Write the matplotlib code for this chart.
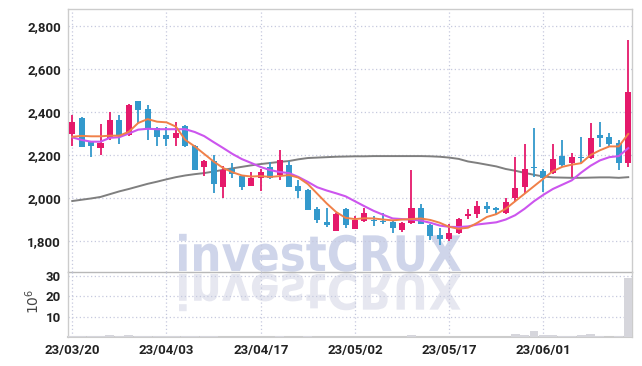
import matplotlib.pyplot as plt
from matplotlib.textpath import TextPath
from matplotlib.patches import PathPatch
from matplotlib.font_manager import FontProperties
from matplotlib.transforms import Affine2D

# tick labels on the date axis (trading-day index)
date_labels = ['23/03/20', '23/04/03', '23/04/17', '23/05/02', '23/05/17', '23/06/01']
date_pos = [0, 10, 20, 30, 40, 50]

# daily prices
opens = [2300, 2372, 2262, 2232, 2280, 2363, 2293, 2451, 2414, 2326,
         2293, 2279, 2335, 2242, 2144, 2172, 2051, 2135, 2102, 2056,
         2093, 2144, 2107, 2153, 2056, 2037, 1949, 1888, 1847, 1949,
         1856, 1893, 1900, 1895, 1888, 1851, 1884, 1954, 1874, 1828,
         1809, 1837, 1916, 1926, 1963, 1955, 1930, 2000, 2051, 2145,
         2126, 2116, 2195, 2163, 2193, 2186, 2293, 2284, 2256, 2163]
highs = [2385, 2375, 2265, 2345, 2400, 2386, 2437, 2452, 2433, 2330,
         2330, 2354, 2338, 2245, 2175, 2200, 2150, 2165, 2105, 2121,
         2135, 2167, 2223, 2172, 2084, 2040, 1958, 1954, 1930, 1952,
         1916, 1954, 1916, 1930, 1893, 1888, 2130, 1972, 1877, 1860,
         1879, 1905, 1950, 1986, 1981, 1958, 2000, 2191, 2251, 2326,
         2135, 2251, 2270, 2210, 2284, 2349, 2354, 2302, 2270, 2735]
lows = [2240, 2235, 2192, 2200, 2270, 2251, 2290, 2350, 2270, 2242,
        2242, 2242, 2235, 2128, 2102, 2023, 2000, 2093, 2037, 2054,
        2033, 2090, 2084, 2049, 2000, 1942, 1884, 1865, 1845, 1860,
        1854, 1890, 1870, 1879, 1837, 1842, 1880, 1877, 1805, 1781,
        1800, 1835, 1902, 1907, 1930, 1921, 1928, 1981, 2023, 2098,
        2028, 2112, 2144, 2098, 2163, 2181, 2237, 2244, 2130, 2144]
closes = [2355, 2237, 2240, 2256, 2363, 2293, 2433, 2409, 2325, 2284,
          2274, 2302, 2242, 2130, 2172, 2065, 2130, 2112, 2051, 2093,
          2121, 2093, 2177, 2051, 2033, 1944, 1898, 1874, 1926, 1874,
          1898, 1930, 1895, 1890, 1860, 1884, 1954, 1879, 1823, 1809,
          1837, 1902, 1924, 1963, 1950, 1945, 1981, 2047, 2135, 2140,
          2093, 2181, 2153, 2191, 2188, 2279, 2280, 2251, 2163, 2493]

# moving averages as drawn
ma_short = [2285, 2289, 2287, 2287, 2290, 2290, 2308, 2349, 2367, 2355,
            2352, 2332, 2270, 2240, 2205, 2170, 2140, 2120, 2105, 2100,
            2102, 2098, 2102, 2107, 2095, 2065, 2020, 1975, 1935, 1908,
            1902, 1906, 1905, 1900, 1896, 1900, 1902, 1905, 1898, 1885,
            1866, 1857, 1862, 1885, 1912, 1925, 1950, 1985, 2020, 2055,
            2090, 2125, 2145, 2155, 2162, 2200, 2222, 2240, 2240, 2298]
ma_mid = [2282, 2270, 2262, 2262, 2280, 2283, 2300, 2318, 2322, 2320,
          2320, 2320, 2320, 2307, 2288, 2260, 2233, 2205, 2181, 2163,
          2144, 2130, 2121, 2116, 2098, 2075, 2050, 2035, 2022, 2008,
          1985, 1962, 1940, 1922, 1905, 1902, 1900, 1895, 1885, 1872,
          1866, 1865, 1868, 1877, 1882, 1887, 1900, 1920, 1950, 1985,
          2015, 2042, 2062, 2082, 2118, 2150, 2175, 2190, 2195, 2232]
ma_long = [1986, 1992, 1998, 2005, 2018, 2031, 2042, 2054, 2066, 2076,
           2087, 2097, 2105, 2111, 2116, 2123, 2131, 2138, 2145, 2152,
           2158, 2163, 2168, 2172, 2180, 2186, 2188, 2190, 2192, 2193,
           2194, 2194, 2195, 2195, 2195, 2195, 2195, 2195, 2194, 2192,
           2188, 2182, 2170, 2163, 2155, 2147, 2135, 2127, 2117, 2108,
           2100, 2096, 2095, 2094, 2094, 2095, 2096, 2096, 2094, 2097]

# volume in millions
volumes = [0.6, 0.6, 0.6, 0.6, 1.2, 0.6, 1.1, 0.6, 0.6, 0.6,
           0.6, 0.6, 0.6, 0.6, 0.6, 0.6, 0.2, 0.2, 0.2, 0.2,
           0.2, 0.2, 0.7, 0.2, 0.2, 0.6, 0.2, 0.2, 0.2, 0.2,
           0.2, 0.2, 0.2, 0.2, 0.2, 0.2, 1.1, 0.2, 0.2, 0.2,
           0.2, 0.2, 0.2, 0.2, 0.2, 0.2, 0.2, 1.5, 1.0, 3.0,
           1.0, 0.8, 0.4, 0.3, 1.0, 1.5, 0.5, 0.2, 0.5, 29.0]

up_color = '#e5196b'
down_color = '#3399cc'
grid_color = '#c6c9de'
frame_color = '#cccccc'
label_font = ['Roboto', 'DejaVu Sans']

W, H = 642, 366
fig = plt.figure(figsize=(W / 100, H / 100), dpi=100)
fig.patch.set_facecolor('white')
ax = fig.add_axes([68 / W, 1 - 272 / H, (632 - 68) / W, (272 - 9) / H])
axv = fig.add_axes([68 / W, 1 - 337 / H, (632 - 68) / W, (337 - 272) / H], sharex=ax)

# watermark with its reflection
fp = FontProperties(family='DejaVu Sans', weight='bold')
tp = TextPath((0, 0), 'investCRUX', size=100, prop=fp)
bb = tp.get_extents()
cap = TextPath((0, 0), 'C', size=100, prop=fp).get_extents()
sx = (461 - 179) / bb.width
sy = 37 / cap.height
to_fig = Affine2D().scale(1 / W, 1 / H) + fig.transFigure
main_tr = Affine2D().translate(-bb.x0, 0).scale(sx, sy).translate(179, H - 271) + to_fig
refl_tr = Affine2D().translate(-bb.x0, 0).scale(sx, -sy).translate(179, H - 274) + to_fig
fig.add_artist(PathPatch(tp, transform=refl_tr, facecolor='#e6e7f0', edgecolor='none', zorder=-2))
fig.add_artist(PathPatch(tp, transform=main_tr, facecolor='#cfd5ea', edgecolor='none', zorder=-2))

x = list(range(len(opens)))
colors = [up_color if c >= o else down_color for o, c in zip(opens, closes)]
bottoms = [min(o, c) for o, c in zip(opens, closes)]
heights = [max(abs(c - o), 5) for o, c in zip(opens, closes)]

ax.plot(x, ma_long, color='#7f7f7f', linewidth=1.4, zorder=2)
ax.vlines(x, lows, highs, colors=colors, linewidth=1.3, zorder=3)
ax.bar(x, heights, bottom=bottoms, width=0.64, color=colors, zorder=4)
ax.plot(x, ma_mid, color='#cc55ee', linewidth=1.5, zorder=5)
ax.plot(x, ma_short, color='#f08048', linewidth=1.4, zorder=5)

axv.bar(x, volumes, width=0.95, color='#d6d6dc', zorder=3)

ax.set_xlim(-0.45, 59.4)
ax.set_ylim(1656, 2879)
axv.set_ylim(0, 32)

ax.set_yticks([1800, 2000, 2200, 2400, 2600, 2800])
ax.set_yticklabels(['1,800', '2,000', '2,200', '2,400', '2,600', '2,800'])
axv.set_yticks([10, 20, 30])
axv.set_xticks(date_pos)
axv.set_xticklabels(date_labels)
ax.tick_params(axis='x', labelbottom=False)

for a in (ax, axv):
    a.set_facecolor('none')
    a.grid(True, color=grid_color, linestyle=(0, (1, 2)), linewidth=0.9)
    a.set_axisbelow(True)
    a.tick_params(length=0, labelsize=9.5, labelcolor='#222222', pad=5)
    for lbl in a.get_xticklabels() + a.get_yticklabels():
        lbl.set_family(label_font)
        lbl.set_fontweight('bold')
    for s in a.spines.values():
        s.set_color(frame_color)
        s.set_linewidth(1.0)

ax.spines['bottom'].set_color('#b8b8b8')
axv.spines['top'].set_visible(False)
axv.spines['bottom'].set_linewidth(1.5)

fig.text(33 / W, 1 - 301 / H, r'$10^6$', rotation=90, ha='center', va='center',
         fontsize=10, color='#444444')

fig.savefig('out.png', dpi=100)
